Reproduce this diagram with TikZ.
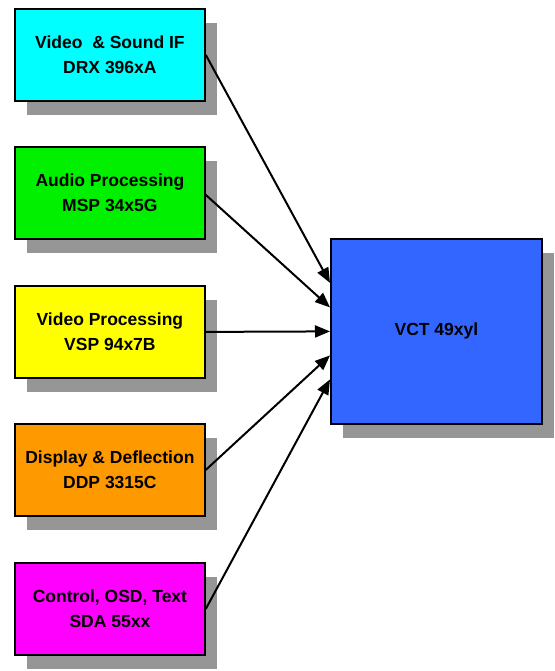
\documentclass[tikz,border=0pt]{standalone}
\usepackage{fontspec}
\setmainfont{Liberation Sans}
\usetikzlibrary{shadows,arrows.meta,calc}
\definecolor{cyanbox}{HTML}{00FFFF}
\definecolor{greenbox}{HTML}{00F000}
\definecolor{yellowbox}{HTML}{FFFF00}
\definecolor{orangebox}{HTML}{FF9900}
\definecolor{magentabox}{HTML}{FF00FF}
\definecolor{bluebox}{HTML}{3366FF}
\definecolor{shadowgray}{HTML}{969696}
\begin{document}
\begin{tikzpicture}[x=1pt,y=1pt,
  chip/.style={draw=black, line width=1.8pt, minimum width=190pt, minimum height=92pt,
    font=\bfseries\fontsize{17.5}{24.5}\selectfont, align=center, text=black, inner sep=0pt,
    anchor=north west,
    drop shadow={shadow xshift=12pt, shadow yshift=-14pt, fill=shadowgray, opacity=1}},
  link/.style={line width=2pt, -{Triangle[length=15pt,width=12pt]}}]
\useasboundingbox (0,0) rectangle (554,-671);
\node[chip, fill=cyanbox] (drx) at (14,-8) {Video~~\& Sound IF\\DRX 396xA};
\node[chip, fill=greenbox] (msp) at (14,-146) {Audio Processing\\MSP 34x5G};
\node[chip, fill=yellowbox] (vsp) at (14,-285) {Video Processing\\VSP 94x7B};
\node[chip, fill=orangebox] (ddp) at (14,-423) {Display \& Deflection\\DDP 3315C};
\node[chip, fill=magentabox] (sda) at (14,-562) {Control, OSD, Text\\SDA 55xx};
\node[chip, fill=bluebox, minimum width=211pt, minimum height=185pt] (vct) at (330,-238) {VCT 49xyl};
\coordinate (in1) at ($(vct.west)+(0,48.5)$);
\coordinate (in2) at ($(vct.west)+(0,24)$);
\coordinate (in3) at (vct.west);
\coordinate (in4) at ($(vct.west)+(0,-24)$);
\coordinate (in5) at ($(vct.west)+(0,-48)$);
\draw[link] (drx.east) -- (in1);
\draw[link] ($(msp.east)+(0,-2)$) -- (in2);
\draw[link] (vsp.east) -- (in3);
\draw[link] (ddp.east) -- (in4);
\draw[link] (sda.east) -- (in5);
\end{tikzpicture}
\end{document}
